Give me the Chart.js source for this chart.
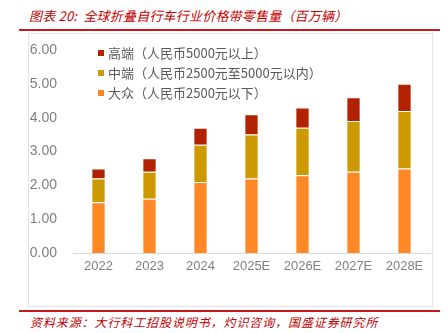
<!DOCTYPE html>
<html>
<head>
<meta charset="utf-8">
<script src="https://cdn.jsdelivr.net/npm/chart.js@4"></script>
<style>
  body { margin: 0; width: 448px; height: 333px; background: #fff; position: relative; overflow: hidden; font-family: "Noto Sans CJK SC", sans-serif; }
  .title { position: absolute; left: 29px; top: 6px; font-size: 13px; color: #c00000; font-style: italic; white-space: nowrap; letter-spacing: 0.2px; }
  .rule { position: absolute; left: 19px; width: 421px; height: 2px; background: #c8161d; }
  .box { position: absolute; left: 28px; top: 33px; width: 403px; height: 272px; border: 1px solid #e3e3e3; }
  .source { position: absolute; left: 30px; top: 313px; font-size: 12px; color: #c00000; font-style: italic; white-space: nowrap; letter-spacing: 0.9px; }
  #wrap { position: absolute; left: 29px; top: 34px; width: 403px; height: 271px; }
</style>
</head>
<body>
<div class="title">图表 20:&nbsp; 全球折叠自行车行业价格带零售量（百万辆）</div>
<div class="rule" style="top:29px"></div>
<div class="box"></div>
<div id="wrap"><canvas id="myChart"></canvas></div>
<div class="rule" style="top:310px"></div>
<div class="source">资料来源：大行科工招股说明书，灼识咨询，国盛证券研究所</div>

<script>
const years = ['2022', '2023', '2024', '2025E', '2026E', '2027E', '2028E'];
const massMarket = [1.5, 1.6, 2.1, 2.2, 2.3, 2.4, 2.5];
const midRange = [0.7, 0.8, 1.1, 1.3, 1.4, 1.5, 1.7];
const highEnd = [0.3, 0.4, 0.5, 0.6, 0.6, 0.7, 0.8];
const yTicks = [0, 1, 2, 3, 4, 5, 6];

// legend drawn inside the plot, top-left
const innerLegend = {
  id: 'innerLegend',
  afterDraw(chart) {
    const c = chart.ctx;
    const area = chart.chartArea;
    const sets = chart.data.datasets.slice().reverse();
    c.save();
    c.font = '13px "Noto Sans CJK SC", sans-serif';
    c.textBaseline = 'middle';
    sets.forEach((ds, i) => {
      const y = area.top + 3 + i * 20;
      const x = area.left + 25;
      c.fillStyle = ds.backgroundColor;
      c.fillRect(x, y - 3, 6, 6);
      c.fillStyle = '#595959';
      c.fillText(ds.label, x + 10, y);
    });
    c.restore();
  }
};

new Chart(document.getElementById('myChart'), {
  type: 'bar',
  data: {
    labels: years,
    datasets: [
      { label: '大众（人民币2500元以下）', data: massMarket, backgroundColor: '#ff8826' },
      { label: '中端（人民币2500元至5000元以内）', data: midRange, backgroundColor: '#cc9900' },
      { label: '高端（人民币5000元以上）', data: highEnd, backgroundColor: '#b22200' }
    ]
  },
  options: {
    responsive: true,
    maintainAspectRatio: false,
    animation: false,
    layout: { padding: { top: 16, right: 2, left: 0, bottom: 0 } },
    datasets: {
      bar: { categoryPercentage: 1, barPercentage: 0.28, borderColor: 'rgba(255,255,255,0.85)', borderWidth: 1 }
    },
    plugins: { legend: { display: false }, tooltip: { enabled: false } },
    scales: {
      x: {
        stacked: true,
        grid: { display: false, drawTicks: false },
        border: { color: '#d9d9d9', width: 1 },
        ticks: { color: '#7f7f7f', font: { size: 13, family: 'Liberation Sans' }, padding: 6 },
        afterFit(axis) { axis.height = 52; }
      },
      y: {
        stacked: true,
        min: 0,
        max: 6,
        grid: { display: false, drawTicks: false },
        border: { display: false },
        afterBuildTicks(axis) { axis.ticks = yTicks.map(v => ({ value: v })); },
        ticks: {
          color: '#7f7f7f',
          font: { size: 14, family: 'Liberation Sans' },
          padding: 16,
          callback: v => v.toFixed(2)
        },
        afterFit(axis) {
          axis.width = 44;
          axis.paddingTop = 0;
          axis.paddingBottom = 0;
        }
      }
    }
  },
  plugins: [innerLegend]
});
</script>
</body>
</html>
